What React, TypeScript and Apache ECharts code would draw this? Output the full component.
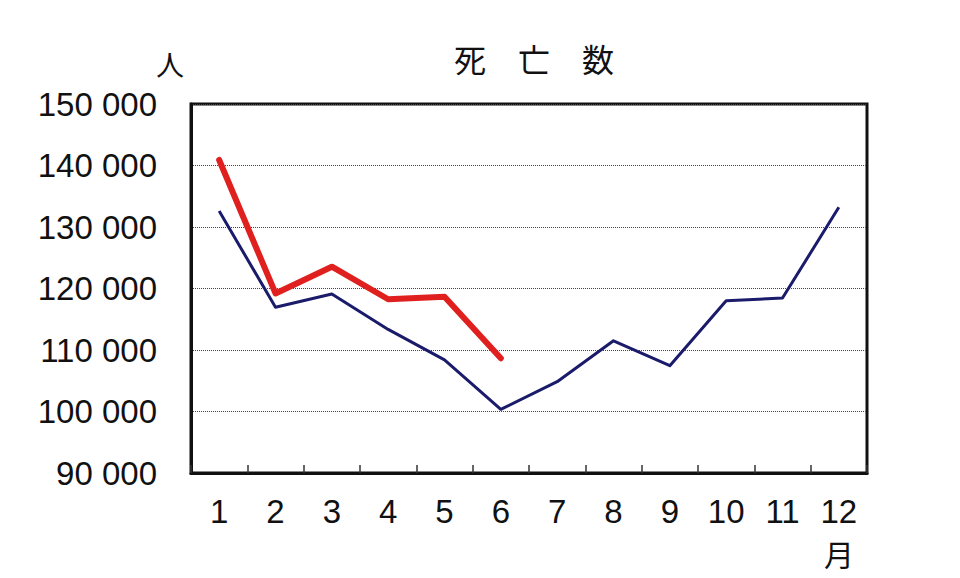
import * as echarts from "echarts"
import { useEffect, useRef } from "react"

const months = ["1", "2", "3", "4", "5", "6", "7", "8", "9", "10", "11", "12"]
// 平年値（青線）
const baseDeaths = [132600, 116950, 119100, 113350, 108400, 100350, 104850, 111500, 107450, 118000, 118450, 133200]
// 今年（赤線）
const currentDeaths = [140900, 119200, 123550, 118250, 118650, 108650]
const yMin = 90000
const yMax = 150000
const yStep = 10000

const latinFont = "'Liberation Sans', Arial, sans-serif"
const cjkFont = "'Noto Sans CJK JP', sans-serif"

const fmt = (v: number) => {
  const s = String(v)
  return s.slice(0, s.length - 3) + " " + s.slice(-3)
}

export default function App() {
  const chartRef = useRef<HTMLDivElement>(null)

  useEffect(() => {
    if (!chartRef.current) return
    const chart = echarts.init(chartRef.current, null, { renderer: "svg" })

    const option: echarts.EChartsOption = {
      animation: false,
      backgroundColor: "#ffffff",
      title: {
        text: "死　亡　数",
        left: 529,
        top: 37,
        textAlign: "center",
        textStyle: { fontFamily: cjkFont, fontSize: 32, fontWeight: "normal", color: "#111" },
      },
      grid: {
        left: 191,
        right: 93,
        top: 104,
        bottom: 105,
        show: true,
        borderColor: "#111",
        borderWidth: 3,
        backgroundColor: "transparent",
      },
      xAxis: {
        type: "category",
        data: months,
        boundaryGap: true,
        axisLine: { lineStyle: { color: "#111", width: 3 } },
        axisTick: { show: true, inside: true, length: 8, interval: 0, lineStyle: { color: "#333", width: 1.5 } },
        axisLabel: { color: "#111", fontSize: 33, fontFamily: latinFont, margin: 22, interval: 0 },
        splitLine: { show: false },
      },
      yAxis: {
        type: "value",
        min: yMin,
        max: yMax,
        interval: yStep,
        axisLine: { show: true, lineStyle: { color: "#111", width: 3 } },
        axisTick: { show: false },
        axisLabel: { color: "#111", fontSize: 33, fontFamily: latinFont, margin: 34, formatter: (v: number) => fmt(v) },
        splitLine: { show: true, lineStyle: { color: "#444", width: 1, type: "dotted" } },
      },
      graphic: [
        {
          type: "text",
          left: 156,
          top: 50,
          style: { text: "人", fontFamily: cjkFont, fontSize: 28, fill: "#111" },
        },
        {
          type: "text",
          left: 824,
          top: 538,
          style: { text: "月", fontFamily: cjkFont, fontSize: 30, fill: "#111" },
        },
      ],
      series: [
        {
          name: "平年",
          type: "line",
          data: baseDeaths,
          showSymbol: false,
          symbol: "none",
          lineStyle: { color: "#1b1b6b", width: 3, join: "round" },
          z: 2,
        },
        {
          name: "今年",
          type: "line",
          data: currentDeaths,
          showSymbol: false,
          symbol: "none",
          lineStyle: { color: "#e0201e", width: 6, cap: "round", join: "round" },
          z: 3,
        },
      ],
    }

    chart.setOption(option)
    return () => chart.dispose()
  }, [])

  return (
    <div
      ref={chartRef}
      style={{ position: "fixed", left: 0, top: 0, width: 960, height: 578 }}
    />
  )
}
